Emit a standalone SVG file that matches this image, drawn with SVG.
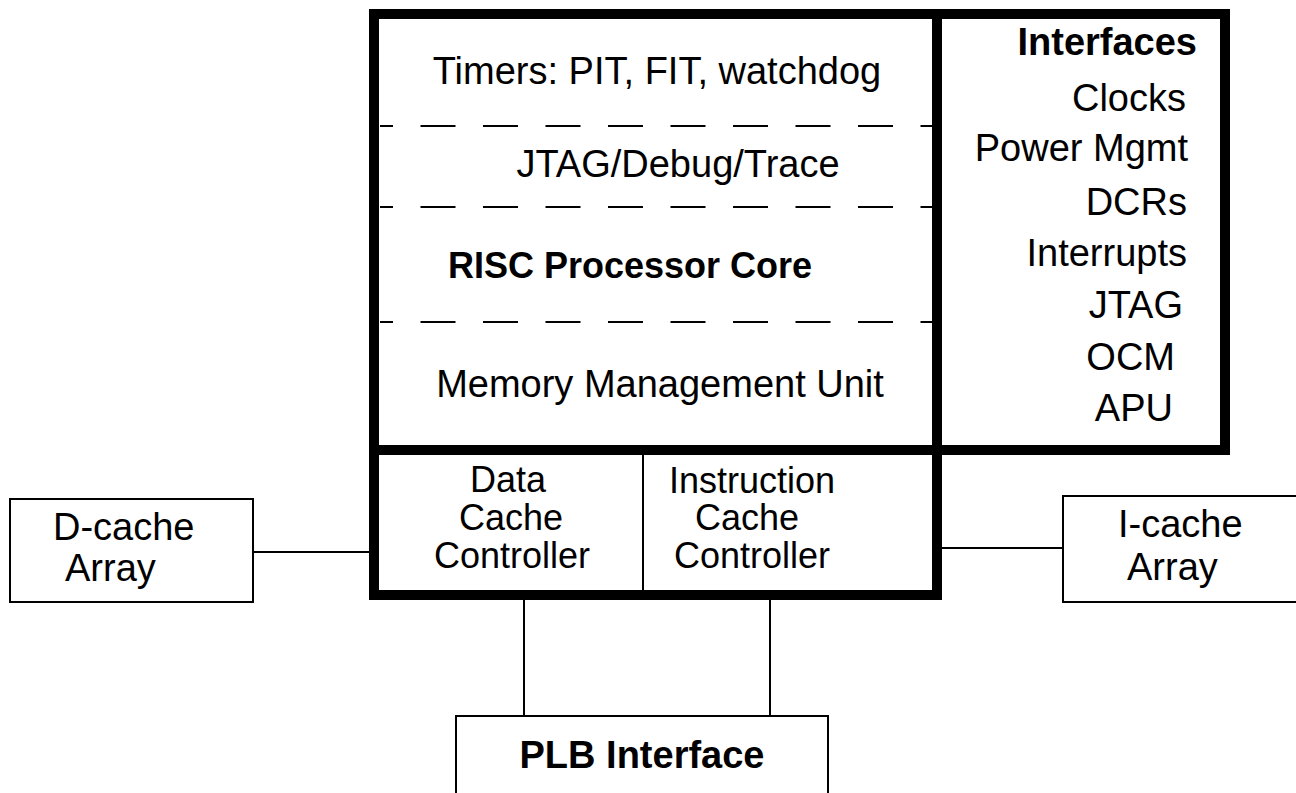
<svg xmlns="http://www.w3.org/2000/svg" width="1296" height="793" viewBox="0 0 1296 793">
  <style>
    text { font-family: "Liberation Sans", Arial, Helvetica, sans-serif; fill: #000; }
    .t { font-size: 38px; }
    .s { font-size: 36px; }
    .b { font-size: 38px; font-weight: bold; }
    .mid { text-anchor: middle; }
    .end { text-anchor: end; }
    .thick { fill: none; stroke: #000; stroke-width: 10; }
    .thin { fill: none; stroke: #000; stroke-width: 2; }
    .dash { fill: none; stroke: #000; stroke-width: 2; stroke-dasharray: 35 27.5; stroke-dashoffset: 22; }
  </style>
  <rect width="1296" height="793" fill="#fff"/>

  <!-- processor core block -->
  <g id="core">
    <rect class="thick" x="374" y="14" width="851" height="436"/>
    <line class="thick" x1="937" y1="14" x2="937" y2="450"/>
    <line class="dash" x1="380" y1="126" x2="932" y2="126"/>
    <line class="dash" x1="380" y1="207" x2="932" y2="207"/>
    <line class="dash" x1="380" y1="322" x2="932" y2="322"/>
    <text class="t mid" x="657" y="84">Timers: PIT, FIT, watchdog</text>
    <text class="t mid" x="678" y="177">JTAG/Debug/Trace</text>
    <text class="b mid" x="630" y="278" style="font-size:36px">RISC Processor Core</text>
    <text class="t mid" x="660" y="397">Memory Management Unit</text>
  </g>

  <!-- interface list -->
  <g id="interfaces">
    <text class="b end" x="1197" y="55">Interfaces</text>
    <text class="t end" x="1186" y="111">Clocks</text>
    <text class="t end" x="1188" y="161">Power Mgmt</text>
    <text class="t end" x="1187" y="215">DCRs</text>
    <text class="t end" x="1187" y="266">Interrupts</text>
    <text class="t end" x="1183" y="318">JTAG</text>
    <text class="t end" x="1175" y="370">OCM</text>
    <text class="t end" x="1173" y="421">APU</text>
  </g>

  <!-- cache controllers -->
  <g id="cache-controllers">
    <rect class="thick" x="374" y="450" width="563" height="145"/>
    <line class="thin" x1="643" y1="455" x2="643" y2="590"/>
  </g>
  <g id="data-cache-controller">
    <text class="s mid" x="508" y="492">Data</text>
    <text class="s mid" x="511" y="530">Cache</text>
    <text class="s mid" x="512" y="568">Controller</text>
  </g>
  <g id="instruction-cache-controller">
    <text class="s mid" x="752" y="493">Instruction</text>
    <text class="s mid" x="747" y="530">Cache</text>
    <text class="s mid" x="752" y="568">Controller</text>
  </g>

  <!-- cache arrays -->
  <g id="d-cache-array">
    <rect class="thin" x="10" y="499" width="243" height="103"/>
    <text class="t" x="53" y="540">D-cache</text>
    <text class="t" x="65" y="581">Array</text>
  </g>
  <g id="i-cache-array">
    <rect class="thin" x="1063" y="496" width="250" height="106"/>
    <text class="t" x="1118" y="537">I-cache</text>
    <text class="t" x="1127" y="580">Array</text>
  </g>

  <!-- bus interface -->
  <g id="plb-interface">
    <rect class="thin" x="456" y="716" width="372" height="100"/>
    <text class="b mid" x="642" y="768">PLB Interface</text>
  </g>

  <!-- connectors -->
  <g id="connectors">
    <line class="thin" x1="253" y1="552" x2="369" y2="552"/>
    <line class="thin" x1="942" y1="548" x2="1063" y2="548"/>
    <line class="thin" x1="524" y1="600" x2="524" y2="716"/>
    <line class="thin" x1="770" y1="600" x2="770" y2="716"/>
  </g>
</svg>
